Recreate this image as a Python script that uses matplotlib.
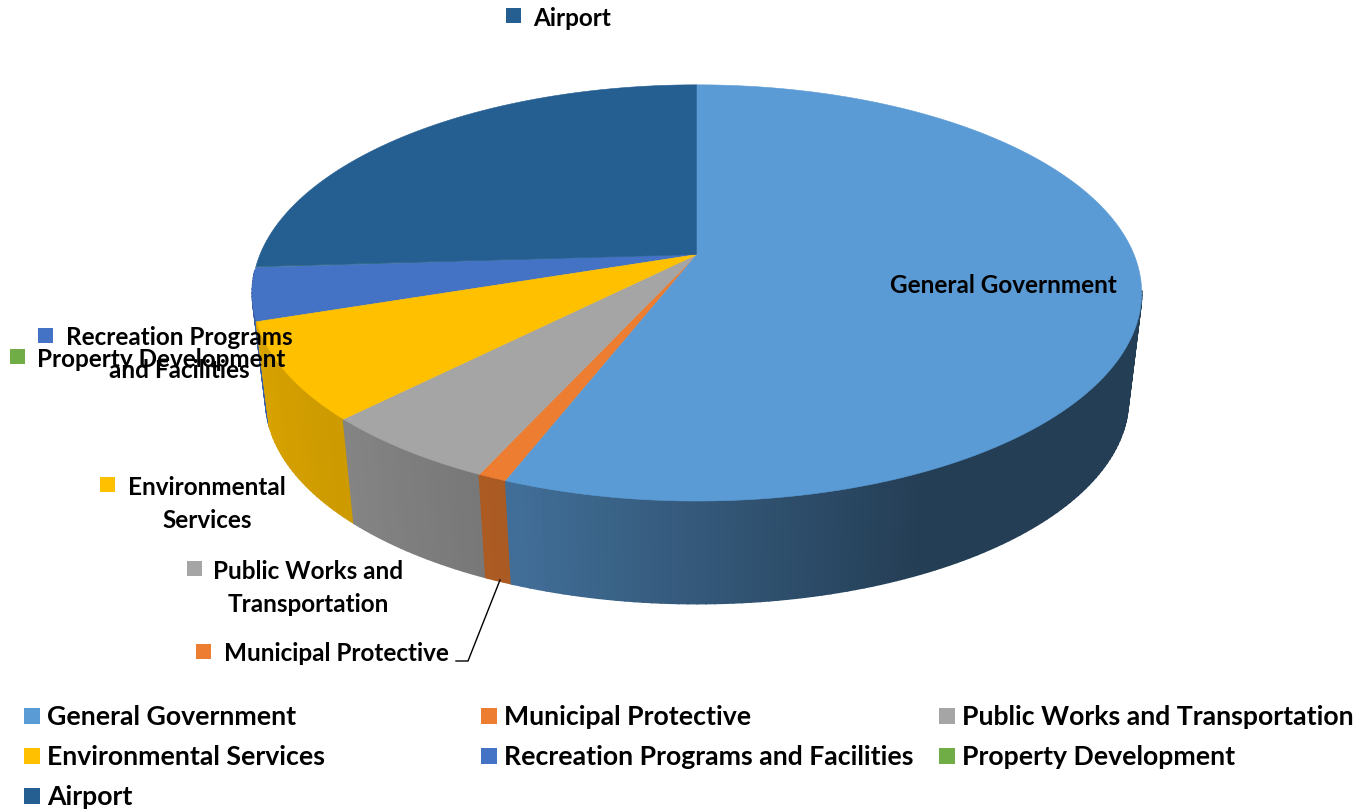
import numpy as np
import matplotlib
matplotlib.use("Agg")
import matplotlib.pyplot as plt
from matplotlib.patches import Rectangle

plt.rcParams["font.family"] = ["Lato", "DejaVu Sans"]

categories = [
    "General Government",
    "Municipal Protective",
    "Public Works and Transportation",
    "Environmental Services",
    "Recreation Programs and Facilities",
    "Property Development",
    "Airport",
]
shares = [55.9, 0.9, 5.6, 7.5, 4.1, 0.05, 25.95]
colors = ["#5B9BD5", "#ED7D31", "#A5A5A5", "#FFC000", "#4472C4", "#70AD47", "#255E91"]

# text, x, y of the label and x, y of its little square
slice_labels = [
    ("General Government", 1003, 286, None, None),
    ("Municipal Protective", 336, 654, 196, 645),
    ("Public Works and\nTransportation", 308, 588, 187, 562),
    ("Environmental\nServices", 207, 504, 100, 478),
    ("Recreation Programs\nand Facilities", 179, 354, 38, 329),
    ("Property Development", 161, 360, 10, 350),
    ("Airport", 572, 19, 506, 9),
]

legend_x = [24, 481, 939]
legend_y = [717, 757, 797]

# pie geometry in pixels, perspective circle
CX, CY = 697, 255.5
A, B, K = 437, 201, 0.1847
BASE_CY, BASE_X, BASE_Y = 363, 0.97, 0.98


def top_xy(theta):
    u, v = np.sin(theta), np.cos(theta)
    d = 1 + K * v
    return CX + A * u / d, CY - B * v / d


def base_xy(theta):
    x, y = top_xy(theta)
    return CX + BASE_X * (x - CX), BASE_CY + BASE_Y * (y - CY)


def wall_shade(deg):
    return np.interp(deg, [155, 200, 224, 252], [0.40, 0.71, 0.80, 0.85])


fig = plt.figure(figsize=(13.66, 8.12), dpi=100)
ax = fig.add_axes([0, 0, 1, 1])
ax.set_xlim(0, 1366)
ax.set_ylim(812, 0)
ax.axis("off")

edges = np.concatenate([[0], np.cumsum(shares)]) / sum(shares) * 360

# side wall first, strips going from the back towards the front
strips = []
for i, col in enumerate(colors):
    rgb = np.array(matplotlib.colors.to_rgb(col))
    steps = np.arange(edges[i], edges[i + 1], 1.0)
    steps = np.append(steps, edges[i + 1])
    for a0, a1 in zip(steps[:-1], steps[1:]):
        mid = (a0 + a1) / 2
        if 100 < mid < 266:
            strips.append((a0, a1, rgb * wall_shade(mid)))
strips.sort(key=lambda s: -abs(((s[0] + s[1]) / 2) - 180))
for a0, a1, c in strips:
    t = np.radians(np.linspace(a0, a1, 4))
    tx, ty = top_xy(t)
    bx, by = base_xy(t)
    ax.fill(
        np.concatenate([tx, bx[::-1]]),
        np.concatenate([ty, by[::-1]]),
        color=c,
        lw=1.2,
    )

# top face, smallest slice first so the neighbours cover its edge
for i in np.argsort(shares):
    t = np.radians(np.linspace(edges[i], edges[i + 1], 200))
    x, y = top_xy(t)
    ax.fill(np.r_[CX, x], np.r_[CY, y], color=colors[i], lw=0.4)

ax.plot([500, 468, 456], [581, 662, 662], color="black", lw=1)

for i, (text, tx, ty, sx, sy) in enumerate(slice_labels):
    ax.text(tx, ty, text, ha="center", va="center", fontsize=17.5,
            fontweight="bold", color="black", linespacing=1.5)
    if sx is not None:
        ax.add_patch(Rectangle((sx, sy), 15, 15, color=colors[i], lw=0))

for i, name in enumerate(categories):
    row, col = divmod(i, 3)
    lx, ly = legend_x[col], legend_y[row]
    ax.add_patch(Rectangle((lx, ly - 8), 16, 16, color=colors[i], lw=0))
    ax.text(lx + 23, ly + 0.5, name, ha="left", va="center", fontsize=19.2,
            fontweight="bold", color="black")

fig.savefig("out.png", dpi=100)
